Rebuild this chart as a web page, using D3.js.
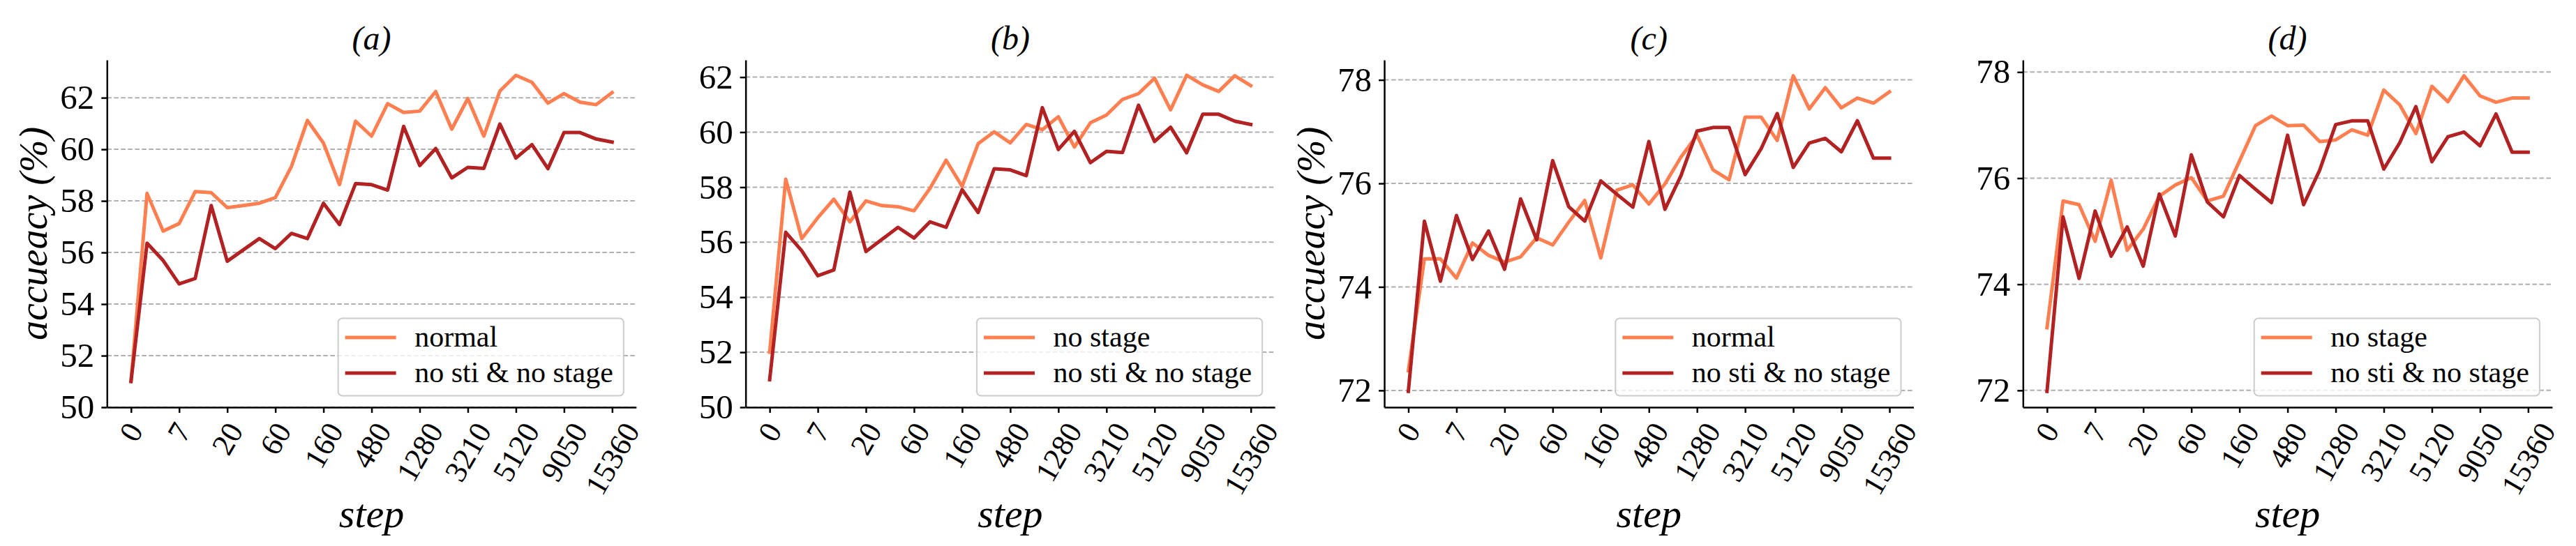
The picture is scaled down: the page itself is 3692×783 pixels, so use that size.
<!DOCTYPE html>
<html lang="en">
<head>
<meta charset="UTF-8">
<title>Accuracy vs step</title>
<script src="https://d3js.org/d3.v7.min.js"></script>
<style>
  body { margin: 0; background: #fff; }
  svg { display: block; font-family: "Liberation Serif", serif; }
</style>
</head>
<body>
<svg></svg>
<script>
// x tick labels, one for every third step
const stepLabels = ["0", "7", "20", "60", "160", "480", "1280", "3210", "5120", "9050", "15360"];

// y ticks
const yTicksAB = [50, 52, 54, 56, 58, 60, 62];
const yTicksCD = [72, 74, 76, 78];

// series values (31 steps each)
const normalA = [51.0, 58.29, 56.83, 57.12, 58.36, 58.32, 57.74, 57.82, 57.91, 58.13, 59.33,
  61.12, 60.24, 58.63, 61.09, 60.51, 61.77, 61.43, 61.48, 62.24, 60.78,
  61.97, 60.51, 62.26, 62.87, 62.60, 61.79, 62.16, 61.83, 61.73, 62.20];
const noStiA = [51.0, 56.36, 55.69, 54.78, 54.99, 57.82, 55.66, 56.10, 56.54, 56.15, 56.74,
  56.54, 57.91, 57.08, 58.67, 58.63, 58.42, 60.89, 59.37, 60.03, 58.89,
  59.30, 59.26, 60.98, 59.66, 60.18, 59.25, 60.65, 60.65, 60.40, 60.28];
const noStageB = [52.0, 58.29, 56.13, 56.89, 57.56, 56.74, 57.50, 57.33, 57.29, 57.14, 57.96,
  58.98, 58.03, 59.58, 60.01, 59.61, 60.28, 60.09, 60.56, 59.46, 60.34,
  60.62, 61.19, 61.40, 61.96, 60.81, 62.07, 61.72, 61.48, 62.05, 61.69];
const normalC = [72.38, 74.54, 74.54, 74.17, 74.85, 74.61, 74.48, 74.58, 74.95, 74.81, 75.25,
  75.67, 74.56, 75.87, 75.97, 75.60, 75.99, 76.51, 76.93, 76.26, 76.07,
  77.28, 77.28, 76.83, 78.08, 77.44, 77.85, 77.46, 77.65, 77.55, 77.77];
const noStiC = [71.98, 75.27, 74.11, 75.38, 74.53, 75.08, 74.34, 75.70, 74.91, 76.44, 75.55,
  75.27, 76.05, 75.79, 75.54, 76.81, 75.50, 76.15, 77.01, 77.08, 77.08,
  76.17, 76.67, 77.35, 76.31, 76.78, 76.87, 76.61, 77.21, 76.49, 76.49];
const noStageD = [73.18, 75.57, 75.50, 74.81, 75.96, 74.64, 75.04, 75.66, 75.87, 76.01, 75.57,
  75.66, 76.32, 76.99, 77.17, 76.99, 77.00, 76.69, 76.72, 76.91, 76.81,
  77.66, 77.38, 76.84, 77.73, 77.44, 77.93, 77.55, 77.43, 77.51, 77.51];

const colors = ["#ff7f50", "#b22222"];

const panels = [
  { title: "(a)", ylabel: "accueacy (%)", floor: 50, ticks: yTicksAB,
    series: [["normal", normalA], ["no sti & no stage", noStiA]] },
  { title: "(b)", ylabel: null, floor: 50, ticks: yTicksAB,
    series: [["no stage", noStageB], ["no sti & no stage", noStiA]] },
  { title: "(c)", ylabel: "accueacy (%)", floor: null, ticks: yTicksCD,
    series: [["normal", normalC], ["no sti & no stage", noStiC]] },
  { title: "(d)", ylabel: null, floor: null, ticks: yTicksCD,
    series: [["no stage", noStageD], ["no sti & no stage", noStiC]] }
];

// layout
const W = 3692, H = 783;
const left0 = 153.3, gap = 915.35, plotW = 758.5;
const plotTop = 86, plotBottom = 584;
const tickLen = 8;
const xFont = 44, yFont = 49;
const rotDeg = 60, rot = rotDeg * Math.PI / 180;

const svg = d3.select("svg").attr("width", W).attr("height", H);

panels.forEach((p, i) => {
  const left = left0 + i * gap, right = left + plotW;
  const g = svg.append("g");

  // y limits like matplotlib autoscale (5% margin), optional fixed floor
  const all = p.series.flatMap(s => s[1]);
  const [lo, hi] = d3.extent(all);
  const m = 0.05 * (hi - lo);
  const y = d3.scaleLinear()
    .domain([p.floor != null ? p.floor : lo - m, hi + m])
    .range([plotBottom, plotTop]);

  const x = d3.scalePoint()
    .domain(d3.range(p.series[0][1].length))
    .range([left, right])
    .padding(1.5);

  // dashed horizontal grid
  g.append("g").selectAll("line")
    .data(p.ticks)
    .join("line")
    .attr("x1", left).attr("x2", right)
    .attr("y1", d => y(d)).attr("y2", d => y(d))
    .attr("stroke", "#b0b0b0")
    .attr("stroke-width", 2)
    .attr("stroke-dasharray", "6.6,3.4");

  // lines
  const line = d3.line().x((d, j) => x(j)).y(d => y(d));
  p.series.forEach((s, k) => {
    g.append("path")
      .datum(s[1])
      .attr("d", line)
      .attr("fill", "none")
      .attr("stroke", colors[k])
      .attr("stroke-width", 5)
      .attr("stroke-linejoin", "round")
      .attr("stroke-linecap", "square");
  });

  // y axis
  const yAxis = g.append("g")
    .attr("transform", `translate(${left},0)`)
    .call(d3.axisLeft(y).tickValues(p.ticks).tickFormat(d3.format("d"))
      .tickSize(tickLen).tickSizeOuter(0).tickPadding(10));
  yAxis.select(".domain").attr("stroke-width", 2.5);
  yAxis.selectAll(".tick line").attr("stroke-width", 2.5);
  yAxis.selectAll(".tick text")
    .attr("font-family", "Liberation Serif")
    .attr("font-size", yFont)
    .attr("fill", "#000");

  // x axis, labels rotated and centred under each tick
  const xAxis = g.append("g")
    .attr("transform", `translate(0,${plotBottom})`)
    .call(d3.axisBottom(x)
      .tickValues(d3.range(0, p.series[0][1].length, 3))
      .tickFormat(d => stepLabels[d / 3])
      .tickSize(tickLen).tickSizeOuter(0));
  xAxis.select(".domain").attr("stroke-width", 2.5);
  xAxis.selectAll(".tick line").attr("stroke-width", 2.5);
  xAxis.selectAll(".tick text").each(function () {
    const t = d3.select(this)
      .attr("font-family", "Liberation Serif")
      .attr("font-size", xFont)
      .attr("fill", "#000")
      .attr("text-anchor", "middle");
    const w = this.getComputedTextLength();
    const bh = w * Math.sin(rot) + xFont * 0.75 * Math.cos(rot);
    const cy = tickLen + 10 + bh / 2;
    t.attr("y", cy).attr("dy", "0.33em")
      .attr("transform", `rotate(${-rotDeg},0,${cy})`);
  });

  // titles and labels
  g.append("text")
    .attr("x", (left + right) / 2).attr("y", 71)
    .attr("text-anchor", "middle")
    .attr("font-style", "italic")
    .attr("font-size", 48)
    .text(p.title);

  g.append("text")
    .attr("x", (left + right) / 2).attr("y", 756)
    .attr("text-anchor", "middle")
    .attr("font-style", "italic")
    .attr("font-size", 58)
    .text("step");

  if (p.ylabel) {
    g.append("text")
      .attr("transform", `translate(${left - 86},${(plotTop + plotBottom) / 2}) rotate(-90)`)
      .attr("text-anchor", "middle")
      .attr("font-style", "italic")
      .attr("font-size", 56)
      .text(p.ylabel);
  }

  // legend, lower right
  const fsL = 42;
  const lg = g.append("g");
  const box = lg.append("rect");
  const labels = p.series.map(s => s[0]);
  const tx = lg.selectAll("text").data(labels).join("text")
    .attr("font-size", fsL)
    .text(d => d);
  const maxW = d3.max(tx.nodes(), n => n.getComputedTextLength());
  const bw = maxW + 124.5, bhL = 111;
  const x0 = right - 18 - bw, y0 = plotBottom - 16.5 - bhL;
  box.attr("x", x0).attr("y", y0).attr("width", bw).attr("height", bhL)
    .attr("rx", 6)
    .attr("fill", "#fff").attr("fill-opacity", 0.8)
    .attr("stroke", "#cccccc").attr("stroke-width", 2);
  const rowY = k => y0 + 27.5 + k * 51;
  lg.selectAll("line").data(labels).join("line")
    .attr("x1", x0 + 10).attr("x2", x0 + 83)
    .attr("y1", (d, k) => rowY(k)).attr("y2", (d, k) => rowY(k))
    .attr("stroke", (d, k) => colors[k])
    .attr("stroke-width", 5);
  tx.attr("x", x0 + 109.5).attr("y", (d, k) => rowY(k) + 0.3 * fsL);
});
</script>
</body>
</html>
